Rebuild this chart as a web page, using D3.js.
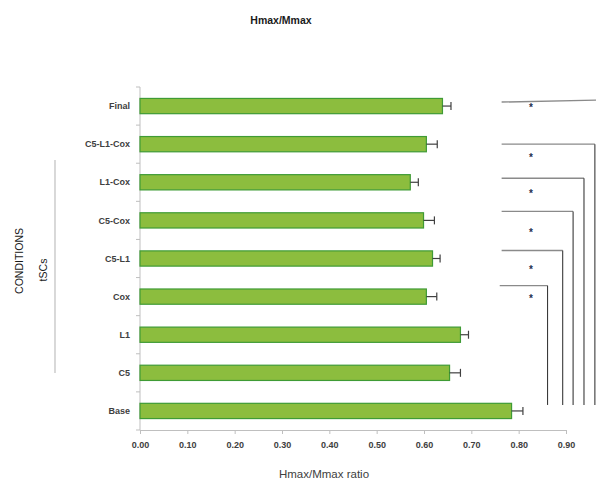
<html>
    <head>
        <style>
body {
    margin: 0;
    background: #fff;
    font-family: "Liberation Sans", Arial, sans-serif;
}
.chart text {
    fill: #404040;
}
.axis path, .axis line {
    stroke: #bfbfbf;
}
.bar {
    fill: #8cbd3e;
    stroke: #3f9b35;
    stroke-width: 1.2;
}
.err {
    stroke: #404040;
    stroke-width: 1.2;
}
        </style>
    </head>
    <body>
<script src="https://d3js.org/d3.v7.min.js"></script>
<script>

const
    width = 596,
    height = 483;

// categories from top to bottom
const categories = ['Final', 'C5-L1-Cox', 'L1-Cox', 'C5-Cox', 'C5-L1', 'Cox', 'L1', 'C5', 'Base'];
const ratio      = [0.639, 0.605, 0.571, 0.599, 0.618, 0.605, 0.677, 0.654, 0.785];
const errors     = [0.018, 0.023, 0.017, 0.023, 0.016, 0.022, 0.017, 0.023, 0.024];
const xTicks     = [0, 0.1, 0.2, 0.3, 0.4, 0.5, 0.6, 0.7, 0.8, 0.9];

// significance brackets: each compared against Base
const sigCats  = ['Final', 'C5-L1-Cox', 'L1-Cox', 'C5-Cox', 'C5-L1', 'Cox'];
const sigStart = [0.764, 0.764, 0.764, 0.764, 0.764, 0.760];
const sigEnd   = [0.975, 0.961, 0.938, 0.915, 0.893, 0.861];
const sigMark  = ['*', '*', '*', '*', '*', '*'];

var svg = d3.select('body')
    .append('svg')
    .classed('chart', true)
    .attr('width', width)
    .attr('height', height);

const
    x = d3.scaleLinear().domain([0, 0.9]).range([140, 566]),
    y = d3.scaleBand().domain(categories).range([87, 430])
        .paddingInner(0.6).paddingOuter(0.3);

// title
svg.append('text')
    .attr('x', 281).attr('y', 24)
    .attr('text-anchor', 'middle')
    .style('font-size', '10.5px')
    .style('font-weight', 'bold')
    .style('fill', '#1a1a1a')
    .text('Hmax/Mmax');

// x axis
svg.append('g')
    .classed('axis', true)
    .attr('transform', 'translate(0,430)')
    .call(d3.axisBottom(x).tickValues(xTicks).tickFormat(d3.format('.2f')).tickSize(4).tickSizeOuter(0))
    .call(g => g.selectAll('text')
        .attr('dy', '1.2em')
        .style('font-size', '9px')
        .style('font-weight', 'bold')
        .style('font-family', '"Liberation Sans", Arial, sans-serif')
        .style('fill', '#404040'));

// y axis: line with ticks between categories, labels at the middle
const yAxis = svg.append('g').classed('axis', true);
yAxis.append('line')
    .attr('x1', x(0)).attr('x2', x(0))
    .attr('y1', y.range()[0]).attr('y2', y.range()[1]);
yAxis.selectAll('.btick')
    .data(d3.range(categories.length + 1))
  .enter().append('line')
    .attr('x1', x(0) - 4).attr('x2', x(0))
    .attr('y1', i => y.range()[0] + i * y.step())
    .attr('y2', i => y.range()[0] + i * y.step());
yAxis.selectAll('.lbl')
    .data(categories)
  .enter().append('text')
    .attr('x', 130)
    .attr('y', d => y(d) + y.bandwidth() / 2)
    .attr('dy', '0.35em')
    .attr('text-anchor', 'end')
    .style('font-size', '9px')
    .style('font-weight', 'bold')
    .text(d => d);

// bars
const rows = categories.map((c, i) => ({cat: c, v: ratio[i], e: errors[i]}));

svg.append('g')
    .selectAll('rect')
    .data(rows)
  .enter().append('rect')
    .classed('bar', true)
    .attr('x', x(0))
    .attr('y', d => y(d.cat))
    .attr('width', d => x(d.v) - x(0))
    .attr('height', y.bandwidth());

const eb = svg.append('g').selectAll('g')
    .data(rows)
  .enter().append('g');
eb.append('line').classed('err', true)
    .attr('x1', d => x(d.v)).attr('x2', d => x(d.v + d.e))
    .attr('y1', d => y(d.cat) + y.bandwidth() / 2)
    .attr('y2', d => y(d.cat) + y.bandwidth() / 2);
eb.append('line').classed('err', true)
    .attr('x1', d => x(d.v + d.e)).attr('x2', d => x(d.v + d.e))
    .attr('y1', d => y(d.cat) + y.bandwidth() / 2 - 4)
    .attr('y2', d => y(d.cat) + y.bandwidth() / 2 + 4);

// significance brackets
const lineOff = [-4, 0, -4, -9, -8, -11],
    starOff = [1, 13, 11, 12, 10, 1],
    bottomY = y('Base') + y.bandwidth() / 2 - 6;

const sig = svg.append('g').selectAll('g')
    .data(sigCats.map((c, i) => ({cat: c, x0: sigStart[i], x1: sigEnd[i], m: sigMark[i], lo: lineOff[i], so: starOff[i], i: i})))
  .enter().append('g');

sig.append('line')
    .attr('x1', d => x(d.x0)).attr('x2', d => x(d.x1))
    .attr('y1', d => y(d.cat) + y.bandwidth() / 2 + d.lo)
    .attr('y2', d => y(d.cat) + y.bandwidth() / 2 + d.lo - (d.i === 0 ? 2 : 0))
    .style('stroke', '#8a8a8a')
    .style('stroke-width', 1.4);

sig.filter(d => d.i > 0).append('line')
    .attr('x1', d => x(d.x1)).attr('x2', d => x(d.x1))
    .attr('y1', d => y(d.cat) + y.bandwidth() / 2 + d.lo)
    .attr('y2', bottomY)
    .style('stroke', '#3a3a3a')
    .style('stroke-width', 1.1);

sig.append('text')
    .attr('x', 531)
    .attr('y', d => y(d.cat) + y.bandwidth() / 2 + d.so + 4)
    .attr('text-anchor', 'middle')
    .style('font-size', '10px')
    .style('font-weight', 'bold')
    .style('fill', '#1f2f4f')
    .text(d => d.m);

// x axis title
svg.append('text')
    .attr('x', 324).attr('y', 478)
    .attr('text-anchor', 'middle')
    .style('font-size', '11.5px')
    .text('Hmax/Mmax ratio');

// y axis titles
svg.append('text')
    .attr('transform', 'translate(23,261) rotate(-90)')
    .attr('text-anchor', 'middle')
    .style('font-size', '10.5px')
    .style('fill', '#1a1a1a')
    .text('CONDITIONS');
svg.append('text')
    .attr('transform', 'translate(47,270) rotate(-90)')
    .attr('text-anchor', 'middle')
    .style('font-size', '10.5px')
    .style('fill', '#1a1a1a')
    .text('tSCs');
svg.append('line')
    .attr('x1', 55).attr('x2', 55)
    .attr('y1', 160).attr('y2', 373)
    .style('stroke', '#bfbfbf')
    .style('stroke-width', 1.2);

</script>
    </body>
</html>
